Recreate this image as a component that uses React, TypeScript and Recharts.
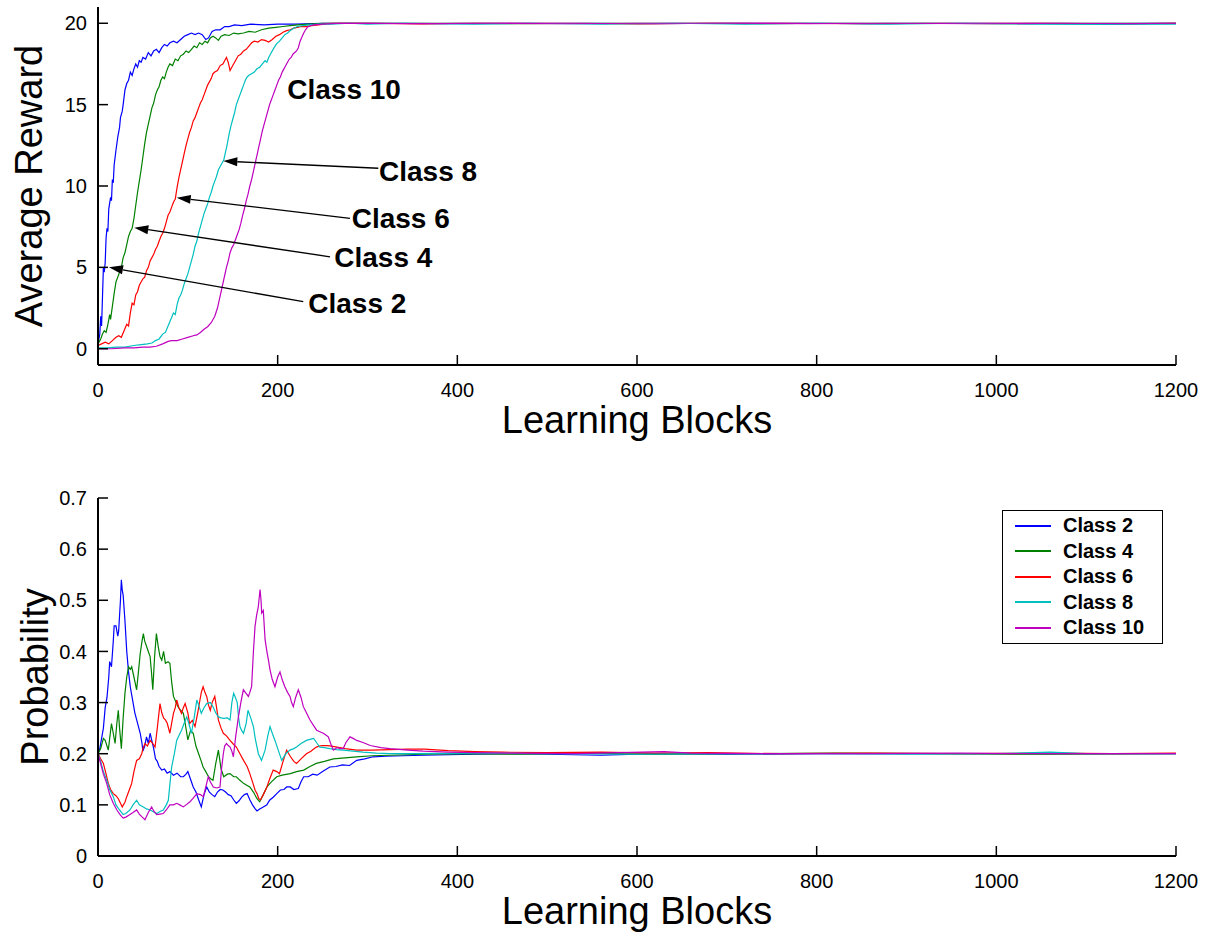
import { LineChart, Line, XAxis, YAxis, Legend, ReferenceLine, ReferenceDot } from 'recharts';

const FONT = "'Liberation Sans', Arial, Helvetica, sans-serif";

const xTicks = [0, 200, 400, 600, 800, 1000, 1200];
const rewardTicks = [0, 5, 10, 15, 20];
const probTicks = [0, 0.1, 0.2, 0.3, 0.4, 0.5, 0.6, 0.7];

const seriesNames = ['Class 2', 'Class 4', 'Class 6', 'Class 8', 'Class 10'];
const seriesColors = ['#0000ff', '#008000', '#ff0000', '#00bfbf', '#bf00bf'];

// [learning block, average reward]
const class2Reward = [
  [0, 0.3], [2, 0.9], [3, 2.0], [4, 1.4], [5, 3.2], [6, 5.0], [7, 4.7], [8, 5.3], [9, 6.8], [10, 7.4],
  [11, 7.2], [12, 8.6], [14, 9.3], [15, 9.1], [16, 10.4], [17, 10.2], [18, 11.3], [20, 12.2], [22, 13.0],
  [24, 13.6], [25, 14.2], [27, 14.6], [28, 15.0], [30, 15.9], [32, 16.3], [34, 16.5], [36, 17.0], [38, 16.8],
  [40, 17.2], [42, 17.5], [44, 17.3], [46, 17.7], [48, 17.6], [50, 17.9], [53, 17.8], [56, 18.2], [59, 18.0],
  [62, 18.3], [65, 18.4], [68, 18.2], [71, 18.5], [74, 18.7], [77, 18.6], [80, 18.8], [84, 18.9], [88, 18.8],
  [92, 19.0], [96, 19.2], [100, 19.3], [104, 19.4], [108, 19.3], [112, 19.4], [116, 19.3], [120, 19.0],
  [123, 19.1], [127, 19.5], [131, 19.6], [136, 19.6], [141, 19.8], [146, 19.8], [152, 19.9], [160, 19.85],
  [170, 19.95], [185, 19.9], [200, 19.95], [220, 19.95], [250, 20], [300, 20], [380, 19.98], [460, 20],
  [540, 20], [620, 19.97], [700, 20], [780, 20], [860, 19.98], [940, 20], [1020, 20], [1100, 19.98], [1200, 20],
];

const class4Reward = [
  [0, 0.3], [3, 0.6], [5, 0.9], [7, 1.1], [9, 1.0], [11, 1.5], [13, 2.1], [14, 1.8], [16, 2.6], [18, 3.4],
  [20, 4.1], [22, 4.4], [24, 4.7], [26, 5.0], [28, 5.6], [30, 5.9], [32, 6.4], [34, 6.9], [36, 7.2], [38, 7.4],
  [40, 8.0], [42, 8.8], [44, 9.6], [46, 10.3], [48, 11.0], [50, 11.8], [52, 12.6], [54, 13.3], [56, 13.8],
  [58, 14.3], [60, 14.8], [62, 15.1], [64, 15.6], [66, 15.9], [68, 16.1], [70, 16.5], [72, 16.7], [74, 16.6],
  [76, 17.0], [78, 17.3], [80, 17.5], [83, 17.4], [86, 17.8], [89, 17.7], [92, 18.0], [95, 18.1], [98, 18.3],
  [101, 18.2], [104, 18.4], [107, 18.6], [110, 18.5], [113, 18.8], [116, 18.7], [119, 18.9], [122, 18.8],
  [125, 19.1], [128, 19.2], [131, 19.1], [134, 18.95], [137, 19.2], [141, 19.3], [146, 19.25], [151, 19.4],
  [156, 19.35], [162, 19.4], [168, 19.5], [175, 19.45], [182, 19.6], [190, 19.7], [198, 19.75], [206, 19.8],
  [214, 19.85], [222, 19.9], [235, 19.95], [250, 20], [300, 20], [400, 20], [480, 19.97], [560, 20], [660, 20],
  [740, 19.98], [820, 20], [920, 20], [1000, 19.97], [1080, 20], [1200, 20],
];

const class6Reward = [
  [0, 0.2], [4, 0.3], [8, 0.4], [12, 0.3], [16, 0.5], [20, 0.7], [23, 0.8], [26, 0.7], [29, 1.1], [32, 1.5],
  [34, 1.4], [36, 2.2], [38, 2.8], [40, 2.7], [42, 3.3], [44, 3.5], [46, 3.9], [48, 4.1], [50, 4.3], [52, 4.4],
  [54, 4.8], [56, 5.0], [58, 5.4], [60, 5.6], [62, 5.8], [64, 6.1], [66, 6.3], [68, 6.6], [70, 6.9], [72, 7.1],
  [74, 7.4], [76, 7.8], [78, 8.2], [80, 8.4], [82, 8.7], [84, 9.0], [86, 9.2], [88, 9.9], [90, 10.5], [92, 11.0],
  [94, 11.5], [96, 12.0], [98, 12.5], [100, 12.9], [102, 13.3], [104, 13.6], [106, 14.0], [108, 14.2],
  [110, 14.5], [112, 14.8], [114, 15.1], [116, 15.3], [118, 15.6], [120, 15.9], [122, 16.2], [124, 16.4],
  [126, 16.6], [128, 16.9], [130, 17.0], [133, 17.1], [136, 17.4], [139, 17.5], [141, 17.7], [143, 17.9],
  [145, 17.6], [147, 17.1], [150, 17.4], [153, 17.7], [156, 18.0], [159, 18.1], [162, 18.3], [165, 18.4],
  [168, 18.6], [171, 18.8], [174, 18.9], [178, 18.85], [182, 19.0], [186, 18.95], [190, 18.85], [194, 19.0],
  [198, 19.2], [202, 19.3], [206, 19.45], [210, 19.55], [214, 19.6], [218, 19.7], [222, 19.75], [226, 19.8],
  [232, 19.8], [238, 19.85], [245, 19.9], [252, 19.95], [260, 20], [300, 20], [360, 19.96], [420, 20],
  [520, 20], [600, 19.96], [680, 20], [760, 20], [850, 19.97], [950, 20], [1050, 20], [1130, 19.96], [1200, 20],
];

const class8Reward = [
  [0, 0.05], [10, 0.05], [20, 0.1], [30, 0.1], [40, 0.2], [48, 0.25], [55, 0.3], [60, 0.35], [64, 0.5],
  [68, 0.6], [72, 0.9], [75, 1.0], [78, 1.4], [81, 1.8], [84, 2.2], [86, 2.1], [88, 2.7], [90, 3.1], [92, 3.3],
  [94, 3.6], [96, 4.0], [98, 4.3], [100, 4.6], [102, 5.0], [104, 5.4], [106, 5.8], [108, 6.3], [110, 6.6],
  [112, 7.1], [114, 7.5], [116, 7.9], [118, 8.3], [120, 8.6], [122, 8.9], [124, 9.3], [126, 9.6], [128, 10.0],
  [130, 10.3], [132, 10.6], [134, 11.0], [136, 11.2], [138, 11.4], [140, 11.6], [142, 12.1], [144, 12.6],
  [146, 13.2], [148, 13.7], [150, 14.1], [152, 14.5], [154, 15.0], [156, 15.3], [158, 15.6], [160, 15.9],
  [162, 16.2], [164, 16.5], [166, 16.7], [168, 16.8], [171, 16.9], [174, 17.0], [177, 17.2], [180, 17.3],
  [183, 17.5], [186, 17.7], [188, 17.6], [190, 17.9], [193, 18.2], [196, 18.5], [199, 18.75], [202, 18.9],
  [205, 19.1], [208, 19.3], [211, 19.4], [214, 19.55], [218, 19.7], [222, 19.8], [228, 19.85], [235, 19.9],
  [245, 19.95], [260, 19.95], [280, 20], [300, 19.95], [340, 20], [420, 19.95], [480, 20], [560, 19.94],
  [640, 20], [720, 19.95], [800, 20], [880, 19.94], [960, 20], [1040, 19.95], [1120, 19.93], [1200, 19.95],
];

const class10Reward = [
  [0, 0], [15, 0], [30, 0.05], [40, 0.05], [50, 0.1], [58, 0.1], [65, 0.15], [72, 0.3], [78, 0.45], [82, 0.5],
  [88, 0.5], [94, 0.6], [100, 0.7], [106, 0.8], [110, 0.85], [114, 1.0], [118, 1.2], [122, 1.35], [126, 1.6],
  [130, 2.0], [133, 2.5], [135, 3.0], [137, 3.5], [139, 4.0], [141, 4.5], [143, 5.0], [145, 5.4], [147, 5.9],
  [149, 6.2], [151, 6.4], [153, 6.7], [155, 7.0], [157, 7.3], [159, 7.7], [161, 8.2], [163, 8.6], [165, 9.1],
  [167, 9.5], [169, 10.0], [171, 10.4], [173, 10.9], [175, 11.4], [177, 11.9], [179, 12.4], [181, 12.9],
  [183, 13.4], [185, 13.8], [187, 14.2], [189, 14.6], [191, 15.0], [193, 15.3], [195, 15.6], [197, 15.9],
  [199, 16.2], [201, 16.5], [203, 16.7], [205, 17.0], [207, 17.2], [209, 17.4], [211, 17.6], [213, 17.8],
  [215, 17.9], [217, 18.1], [219, 18.2], [221, 18.3], [223, 18.5], [225, 18.9], [227, 19.15], [229, 19.4],
  [231, 19.6], [233, 19.75], [236, 19.85], [240, 19.9], [250, 19.95], [270, 20], [350, 19.98], [440, 20],
  [520, 19.97], [600, 20], [700, 20], [790, 19.98], [880, 20], [980, 19.97], [1070, 20], [1150, 19.98], [1200, 20],
];

// [learning block, probability]
const class2Prob = [
  [0, 0.2], [2, 0.21], [4, 0.23], [6, 0.25], [8, 0.29], [10, 0.31], [12, 0.35], [13, 0.38], [15, 0.37],
  [17, 0.42], [18, 0.45], [20, 0.45], [22, 0.43], [23, 0.44], [25, 0.5], [26, 0.54], [27, 0.52], [28, 0.51],
  [30, 0.46], [32, 0.4], [34, 0.36], [36, 0.33], [38, 0.31], [41, 0.28], [44, 0.26], [47, 0.24], [49, 0.22],
  [50, 0.205], [52, 0.215], [54, 0.233], [56, 0.22], [58, 0.24], [60, 0.225], [62, 0.21], [64, 0.19],
  [66, 0.185], [68, 0.175], [71, 0.168], [74, 0.17], [77, 0.162], [80, 0.165], [84, 0.158], [88, 0.162],
  [92, 0.155], [95, 0.155], [98, 0.16], [100, 0.165], [103, 0.15], [106, 0.135], [109, 0.125], [112, 0.11],
  [115, 0.096], [118, 0.12], [121, 0.135], [124, 0.125], [127, 0.12], [130, 0.116], [133, 0.125], [136, 0.13],
  [139, 0.129], [142, 0.125], [145, 0.12], [148, 0.118], [151, 0.11], [154, 0.103], [157, 0.108], [160, 0.115],
  [163, 0.12], [166, 0.122], [169, 0.11], [172, 0.1], [175, 0.092], [177, 0.088], [180, 0.092], [184, 0.096],
  [188, 0.1], [191, 0.109], [195, 0.115], [199, 0.122], [203, 0.129], [207, 0.13], [210, 0.135], [214, 0.135],
  [218, 0.13], [223, 0.132], [226, 0.145], [229, 0.155], [234, 0.155], [239, 0.16], [244, 0.158], [250, 0.165],
  [258, 0.174], [265, 0.175], [272, 0.178], [280, 0.177], [288, 0.187], [297, 0.19], [306, 0.194], [320, 0.195],
  [340, 0.196], [362, 0.197], [390, 0.198], [420, 0.199], [460, 0.2], [500, 0.199], [560, 0.197], [620, 0.2],
  [700, 0.199], [800, 0.2], [900, 0.2], [1000, 0.2], [1100, 0.2], [1200, 0.2],
];

const class4Prob = [
  [0, 0.2], [3, 0.21], [6, 0.23], [8, 0.226], [10, 0.215], [11.5, 0.207], [13, 0.23], [15, 0.259], [17, 0.24],
  [19, 0.22], [21, 0.26], [22.6, 0.285], [24, 0.25], [26, 0.21], [28, 0.27], [30, 0.318], [32, 0.35], [34, 0.37],
  [36, 0.365], [37.5, 0.37], [40, 0.35], [43, 0.325], [45, 0.36], [47, 0.396], [49, 0.42], [50.5, 0.435],
  [52, 0.42], [54, 0.41], [56, 0.4], [58, 0.39], [59.5, 0.36], [61, 0.325], [63, 0.39], [65, 0.435], [67, 0.41],
  [69, 0.39], [71, 0.383], [73, 0.4], [75, 0.377], [78, 0.38], [80, 0.377], [82, 0.34], [84, 0.312], [87, 0.3],
  [89, 0.292], [92, 0.285], [95, 0.279], [97, 0.26], [100, 0.227], [103, 0.245], [106, 0.24], [109, 0.215],
  [112, 0.2], [115, 0.185], [117, 0.174], [120, 0.165], [123, 0.155], [126, 0.15], [128, 0.148], [131, 0.18],
  [134, 0.207], [137, 0.17], [140, 0.155], [144, 0.16], [147, 0.161], [151, 0.155], [154, 0.155], [158, 0.148],
  [162, 0.142], [166, 0.138], [169, 0.135], [173, 0.125], [177, 0.112], [180, 0.106], [184, 0.12], [188, 0.135],
  [193, 0.145], [199, 0.155], [205, 0.158], [214, 0.161], [221, 0.165], [229, 0.168], [236, 0.175], [243, 0.181],
  [252, 0.185], [262, 0.19], [275, 0.192], [288, 0.194], [305, 0.196], [325, 0.197], [362, 0.199], [400, 0.2],
  [470, 0.199], [540, 0.201], [620, 0.199], [700, 0.2], [820, 0.201], [940, 0.2], [1060, 0.199], [1200, 0.2],
];

const class6Prob = [
  [0, 0.2], [3, 0.19], [6, 0.181], [9, 0.16], [11.5, 0.142], [14, 0.13], [17, 0.122], [20, 0.118],
  [22.6, 0.112], [25, 0.103], [27, 0.096], [30, 0.105], [32, 0.116], [35, 0.13], [37.5, 0.142], [40, 0.165],
  [43, 0.187], [46, 0.19], [48.7, 0.2], [50, 0.21], [52.3, 0.22], [55, 0.215], [58, 0.226], [61, 0.22],
  [63.5, 0.213], [66, 0.25], [69, 0.298], [71, 0.28], [73, 0.27], [75, 0.266], [77, 0.26], [80, 0.24],
  [82, 0.26], [84, 0.279], [86, 0.29], [87.6, 0.305], [90, 0.29], [93, 0.279], [95, 0.29], [97, 0.298],
  [100, 0.28], [102, 0.259], [105, 0.265], [108, 0.253], [111, 0.28], [113.5, 0.305], [115, 0.32], [117, 0.331],
  [119, 0.32], [121, 0.312], [123, 0.295], [125, 0.285], [127, 0.3], [130, 0.312], [132, 0.29], [134, 0.266],
  [137, 0.25], [139.5, 0.24], [143, 0.235], [147, 0.226], [150, 0.22], [154, 0.213], [158, 0.2], [162, 0.187],
  [166, 0.175], [169, 0.161], [172, 0.145], [175, 0.128], [177, 0.122], [179, 0.112], [181, 0.11], [184, 0.12],
  [188, 0.135], [191, 0.15], [195, 0.168], [199, 0.165], [202, 0.161], [206, 0.185], [210, 0.207], [214, 0.195],
  [218, 0.185], [221, 0.181], [226, 0.19], [232, 0.2], [237, 0.205], [243, 0.213], [249, 0.216], [255, 0.216],
  [260, 0.215], [266, 0.213], [275, 0.21], [288, 0.207], [305, 0.207], [325, 0.208], [345, 0.209], [363, 0.209],
  [390, 0.206], [420, 0.204], [450, 0.203], [500, 0.202], [560, 0.203], [620, 0.201], [680, 0.202], [760, 0.2],
  [860, 0.201], [960, 0.2], [1060, 0.201], [1130, 0.2], [1200, 0.201],
];

const class8Prob = [
  [0, 0.2], [3, 0.185], [6, 0.165], [9.7, 0.148], [13, 0.13], [17, 0.116], [20, 0.1], [24, 0.09], [28, 0.081],
  [31, 0.083], [35.6, 0.09], [39, 0.1], [43, 0.109], [46, 0.1], [50.5, 0.096], [54, 0.092], [58, 0.09],
  [62, 0.086], [65.3, 0.083], [69, 0.087], [72.7, 0.09], [76, 0.1], [78.3, 0.109], [80, 0.14], [82, 0.174],
  [85, 0.2], [87.6, 0.226], [90, 0.235], [93, 0.246], [96, 0.26], [98.7, 0.272], [101, 0.26], [104, 0.24],
  [107, 0.27], [110, 0.305], [113, 0.29], [115, 0.279], [118, 0.29], [121, 0.298], [125, 0.3], [128, 0.292],
  [131, 0.28], [134, 0.272], [137, 0.27], [140, 0.269], [144, 0.27], [147, 0.266], [149, 0.3], [151, 0.318],
  [153, 0.31], [155, 0.3], [156.5, 0.27], [158, 0.253], [160, 0.245], [162, 0.24], [165, 0.26], [167, 0.285],
  [170, 0.27], [173, 0.253], [175, 0.23], [178.5, 0.2], [182, 0.187], [186, 0.207], [189, 0.235], [191.5, 0.253],
  [194, 0.24], [197, 0.226], [201, 0.205], [204.5, 0.187], [209, 0.2], [213.7, 0.207], [218, 0.21], [221, 0.213],
  [226, 0.22], [232, 0.226], [236, 0.228], [240, 0.23], [244, 0.22], [247, 0.213], [252, 0.212], [258, 0.21],
  [265, 0.208], [273, 0.207], [284, 0.205], [295, 0.203], [310, 0.201], [325, 0.2], [350, 0.2], [420, 0.201],
  [500, 0.2], [600, 0.199], [700, 0.2], [800, 0.2], [900, 0.199], [1000, 0.2], [1060, 0.203], [1100, 0.2],
  [1200, 0.2],
];

const class10Prob = [
  [0, 0.2], [3, 0.18], [6, 0.16], [9.7, 0.142], [13, 0.12], [17, 0.103], [21, 0.09], [25, 0.08], [28, 0.074],
  [31, 0.076], [35.6, 0.081], [39, 0.085], [43, 0.09], [46, 0.082], [48.7, 0.077], [52.3, 0.071], [56, 0.085],
  [59.7, 0.096], [62, 0.088], [65.3, 0.081], [69, 0.082], [72.7, 0.083], [76, 0.09], [80, 0.1], [84, 0.1],
  [87.6, 0.103], [91, 0.1], [95, 0.096], [98, 0.1], [102.4, 0.106], [106, 0.113], [110, 0.122], [114, 0.12],
  [117.3, 0.116], [120, 0.135], [122.8, 0.155], [125, 0.145], [128.4, 0.135], [132, 0.133], [135.8, 0.135],
  [137.5, 0.17], [139.5, 0.2], [141, 0.215], [143, 0.22], [145, 0.216], [147, 0.213], [149, 0.205],
  [150.7, 0.194], [153, 0.23], [156.3, 0.272], [159, 0.3], [161.8, 0.325], [164, 0.32], [167.4, 0.312],
  [169, 0.32], [171, 0.331], [173, 0.4], [174.8, 0.449], [176.5, 0.47], [178.5, 0.488], [180.4, 0.521],
  [181.5, 0.5], [182.2, 0.475], [184, 0.48], [186, 0.423], [188, 0.4], [190, 0.38], [191.5, 0.364], [194, 0.345],
  [197, 0.331], [200, 0.35], [202.6, 0.36], [205, 0.345], [208, 0.331], [211, 0.32], [213.7, 0.312],
  [215.5, 0.3], [217.4, 0.292], [220, 0.31], [223, 0.325], [226, 0.31], [228.6, 0.292], [232, 0.28],
  [236, 0.266], [240, 0.255], [243.4, 0.246], [247, 0.243], [250.8, 0.24], [254, 0.236], [256.4, 0.233],
  [259, 0.22], [262, 0.207], [266, 0.212], [270, 0.21], [273, 0.21], [276, 0.222], [280.5, 0.233], [284, 0.23],
  [288, 0.226], [295, 0.222], [303, 0.216], [315, 0.212], [325, 0.21], [345, 0.207], [362, 0.205], [390, 0.203],
  [420, 0.202], [460, 0.201], [530, 0.2], [630, 0.204], [660, 0.201], [760, 0.2], [860, 0.2], [960, 0.201],
  [1060, 0.2], [1200, 0.2],
];

const rewardSeries = [class2Reward, class4Reward, class6Reward, class8Reward, class10Reward];
const probSeries = [class2Prob, class4Prob, class6Prob, class8Prob, class10Prob];

// arrow annotations on the reward plot, in data units: label, text position, arrow start, arrow tip
const annotations = [
  { label: 'Class 10', tx: 210.7, ty: 15.34 },
  { label: 'Class 8', tx: 312.8, ty: 10.3, sx: 312.0, sy: 11.09, ex: 139.5, ey: 11.53 },
  { label: 'Class 6', tx: 282.4, ty: 7.4, sx: 280.5, sy: 8.01, ex: 87.6, ey: 9.28 },
  { label: 'Class 4', tx: 263.0, ty: 5.0, sx: 258.3, sy: 5.65, ex: 40.4, ey: 7.44 },
  { label: 'Class 2', tx: 234.1, ty: 2.21, sx: 228.5, sy: 2.89, ex: 12.2, ey: 5.0 },
];

const toRows = (pts: number[][]) => pts.map(([x, y]) => ({ x, y }));

const tickStyle = { fill: '#000', fontSize: 20, fontFamily: FONT };
const frame = { stroke: '#000', strokeWidth: 2 };
const tickMark = { stroke: '#000', strokeWidth: 1.5 };

function Arrow(props: any) {
  const { x1, y1, x2, y2 } = props;
  const dx = x2 - x1;
  const dy = y2 - y1;
  const len = Math.hypot(dx, dy) || 1;
  const ux = dx / len;
  const uy = dy / len;
  const bx = x2 - ux * 14;
  const by = y2 - uy * 14;
  const pts = `${x2},${y2} ${bx - uy * 4.5},${by + ux * 4.5} ${bx + uy * 4.5},${by - ux * 4.5}`;
  return (
    <g>
      <line x1={x1} y1={y1} x2={bx} y2={by} stroke="#000" strokeWidth={1.3} />
      <polygon points={pts} fill="#000" />
    </g>
  );
}

function xTitle({ viewBox }: any) {
  return (
    <text
      x={viewBox.x + viewBox.width / 2}
      y={viewBox.y + 68}
      textAnchor="middle"
      fontSize={38}
      fontFamily={FONT}
      fill="#000"
    >
      Learning Blocks
    </text>
  );
}

function yTitle(text: string, bx: number) {
  return ({ viewBox }: any) => {
    const cy = viewBox.y + viewBox.height / 2;
    return (
      <text
        x={bx}
        y={cy}
        transform={`rotate(-90, ${bx}, ${cy})`}
        textAnchor="middle"
        fontSize={38}
        fontFamily={FONT}
        fill="#000"
      >
        {text}
      </text>
    );
  };
}

// drawn in series order (the default legend sorts names alphabetically)
function LegendBox() {
  return (
    <div
      style={{
        border: '1.5px solid #000',
        background: '#fff',
        padding: '2px 0',
        boxSizing: 'border-box',
        width: 161,
        fontFamily: FONT,
      }}
    >
      {seriesNames.map((name, i) => (
        <div key={name} style={{ height: 25.5, display: 'flex', alignItems: 'center' }}>
          <div style={{ marginLeft: 12, width: 36, height: 2, background: seriesColors[i] }} />
          <span style={{ marginLeft: 12, fontSize: 20, fontWeight: 'bold', color: '#000' }}>{name}</span>
        </div>
      ))}
    </div>
  );
}

function Axes({ domain, ticks, label }: { domain: number[]; ticks: number[]; label: any }) {
  return [
    <XAxis
      key="xb"
      type="number"
      dataKey="x"
      domain={[0, 1200]}
      ticks={xTicks}
      height={80}
      tick={tickStyle}
      tickSize={-10}
      tickMargin={28}
      axisLine={frame}
      tickLine={tickMark}
      label={{ content: xTitle }}
    />,
    <XAxis
      key="xt"
      xAxisId="top"
      orientation="top"
      type="number"
      dataKey="x"
      domain={[0, 1200]}
      ticks={xTicks}
      height={0}
      tick={false}
      tickSize={-10}
      axisLine={frame}
      tickLine={tickMark}
    />,
    <YAxis
      key="yl"
      type="number"
      domain={domain}
      ticks={ticks}
      width={98}
      tick={tickStyle}
      tickSize={-10}
      tickMargin={21}
      axisLine={frame}
      tickLine={tickMark}
      label={{ content: label }}
    />,
    <YAxis
      key="yr"
      yAxisId="right"
      orientation="right"
      type="number"
      domain={domain}
      ticks={ticks}
      width={0}
      tick={false}
      tickSize={-10}
      axisLine={frame}
      tickLine={tickMark}
    />,
  ];
}

export default function App() {
  return (
    <div style={{ position: 'absolute', left: 0, top: 0, width: 1209, height: 938, background: '#fff' }}>
      <LineChart width={1209} height={460} margin={{ top: 7, right: 33, bottom: 15, left: 0 }}>
        {Axes({ domain: [-1, 21], ticks: rewardTicks, label: yTitle('Average Reward', 42) })}
        {rewardSeries.map((s, i) => (
          <Line
            key={seriesNames[i]}
            data={toRows(s)}
            dataKey="y"
            name={seriesNames[i]}
            type="linear"
            stroke={seriesColors[i]}
            strokeWidth={1.2}
            dot={false}
            activeDot={false}
            isAnimationActive={false}
          />
        ))}
        {annotations
          .filter((a) => a.sx !== undefined)
          .map((a) => (
            <ReferenceLine
              key={'arrow-' + a.label}
              segment={[
                { x: a.sx, y: a.sy },
                { x: a.ex, y: a.ey },
              ]}
              shape={Arrow}
            />
          ))}
        {annotations.map((a) => (
          <ReferenceDot
            key={'text-' + a.label}
            x={a.tx}
            y={a.ty}
            r={0}
            shape={(p: any) => (
              <text x={p.cx} y={p.cy} fontSize={28} fontWeight="bold" fontFamily={FONT} fill="#000">
                {a.label}
              </text>
            )}
          />
        ))}
      </LineChart>
      <LineChart width={1209} height={478} margin={{ top: 38, right: 33, bottom: 2, left: 0 }}>
        {Axes({ domain: [0, 0.7], ticks: probTicks, label: yTitle('Probability', 48) })}
        {probSeries.map((s, i) => (
          <Line
            key={seriesNames[i]}
            data={toRows(s)}
            dataKey="y"
            name={seriesNames[i]}
            type="linear"
            stroke={seriesColors[i]}
            strokeWidth={1.2}
            dot={false}
            activeDot={false}
            isAnimationActive={false}
          />
        ))}
        <Legend
          layout="vertical"
          align="center"
          verticalAlign="middle"
          wrapperStyle={{ top: 50, left: 1002, width: 161 }}
          content={LegendBox}
        />
      </LineChart>
    </div>
  );
}
